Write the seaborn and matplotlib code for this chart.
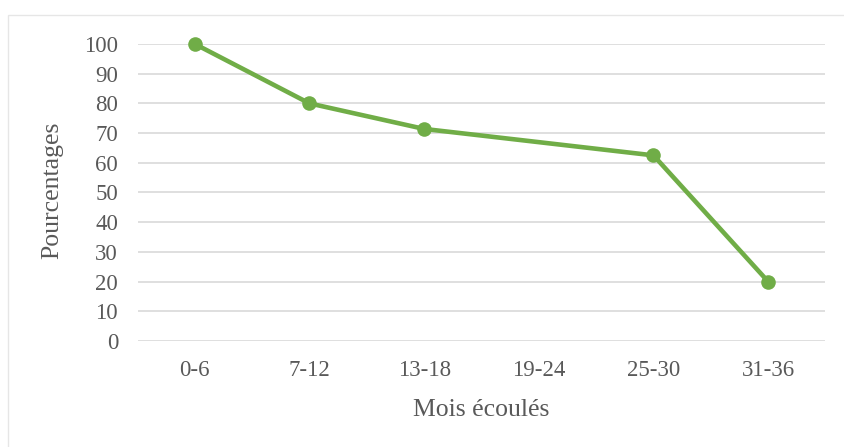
import numpy as np
import pandas as pd
import matplotlib
matplotlib.use("Agg")
import matplotlib.pyplot as plt
from matplotlib.patches import Rectangle
import seaborn as sns

# Données (19-24 : pas de point, la ligne relie les voisins)
periodes = ["0-6", "7-12", "13-18", "19-24", "25-30", "31-36"]
pourcentages = [100, 80, 71.4, np.nan, 62.5, 20]
graduations_y = [0, 10, 20, 30, 40, 50, 60, 70, 80, 90, 100]

df = pd.DataFrame({"pos": np.arange(len(periodes)), "val": pourcentages}).dropna()

sns.set_theme(style="white")
plt.rcParams["font.family"] = ["Liberation Serif", "DejaVu Serif"]

vert = "#70AD47"
gris_texte = "#595959"

fig = plt.figure(figsize=(8.44, 4.47), dpi=100)
# cadre clair du graphique
fig.patches.append(Rectangle((8 / 844, -0.1), 1.0, 1 - 15 / 447 + 0.1,
                             transform=fig.transFigure, fill=False,
                             edgecolor="#e6e6e6", linewidth=1))
ax = fig.add_axes([137.5 / 844, 1 - 341 / 447, (825.5 - 137.5) / 844, (341 - 44) / 447])

sns.lineplot(data=df, x="pos", y="val", ax=ax, color=vert, linewidth=3.3,
             marker="o", markersize=10.5, markeredgewidth=0, clip_on=False, zorder=3)

ax.set_xlim(-0.5, len(periodes) - 0.5)
ax.set_ylim(0, 100)
ax.set_xticks(np.arange(len(periodes)))
ax.set_xticklabels(periodes)
ax.set_yticks(graduations_y)

for y in graduations_y:
    ax.axhline(y, color="#d9d9d9", linewidth=1.2, zorder=1)
for s in ax.spines.values():
    s.set_visible(False)

ax.tick_params(axis="both", length=0, labelsize=16.5, labelcolor=gris_texte)
ax.tick_params(axis="x", pad=14)
ax.tick_params(axis="y", pad=14)

ax.set_xlabel("Mois écoulés", fontsize=18.5, color=gris_texte, va="center")
ax.set_ylabel("Pourcentages", fontsize=18.5, color=gris_texte, va="center", ha="center")
ax.xaxis.set_label_coords(0.5, (341 - 410) / 297)
ax.yaxis.set_label_coords((52 - 137.5) / 688, (341 - 190) / 297)

fig.savefig("out.png", dpi=100)
